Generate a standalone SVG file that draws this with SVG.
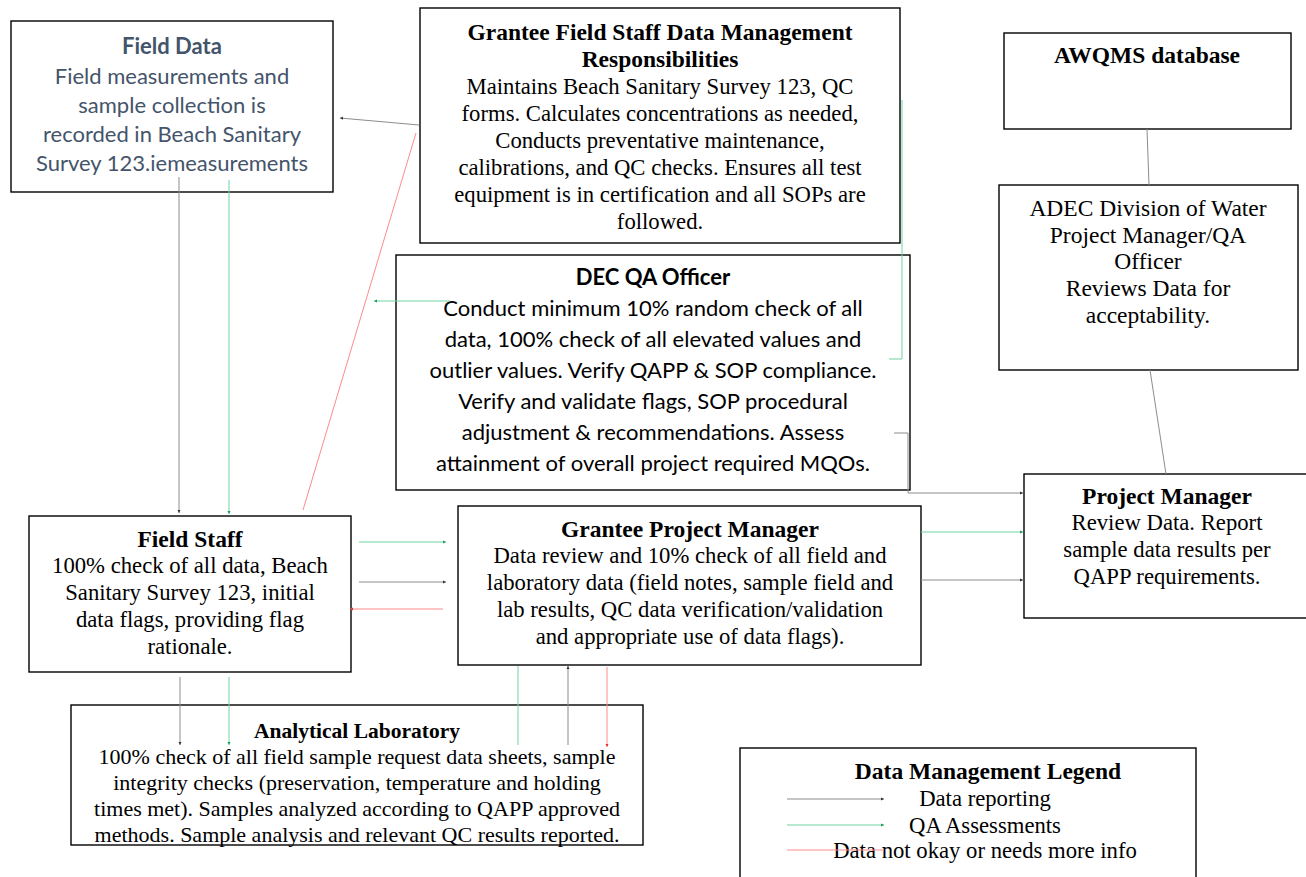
<svg xmlns="http://www.w3.org/2000/svg" width="1306" height="877" viewBox="0 0 1306 877">
<style>
.box{fill:#fff;stroke:#000;stroke-width:1.4}
.s{font-family:"Liberation Serif",serif;font-size:22.7px;fill:#000;text-anchor:middle}
.sb{font-family:"Liberation Serif",serif;font-size:23.5px;font-weight:bold;fill:#000;text-anchor:middle}
.c{font-family:Lato,"Liberation Sans",sans-serif;font-size:22px;fill:#000;text-anchor:middle}
.cb{font-family:Lato,"Liberation Sans",sans-serif;font-size:22px;font-weight:bold;fill:#000;text-anchor:middle}
.fd{fill:#44546A}
.big{font-size:23.5px}
.lab{font-size:22px}
.labt{font-size:21.5px}
.g{stroke:#8c8c8c;stroke-width:1;fill:none}
.gr{stroke:#6fd3a0;stroke-width:1;fill:none}
.r{stroke:#ff8a8a;stroke-width:1;fill:none}
</style>
<defs>
<marker id="ag" markerWidth="4" markerHeight="4" refX="3" refY="2" orient="auto" markerUnits="userSpaceOnUse"><path d="M0,0.5 L3,2 L0,3.5z" fill="#333"/></marker>
<marker id="agr" markerWidth="4" markerHeight="4" refX="3" refY="2" orient="auto" markerUnits="userSpaceOnUse"><path d="M0,0.5 L3,2 L0,3.5z" fill="#1a9a5a"/></marker>
<marker id="ar" markerWidth="4" markerHeight="4" refX="3" refY="2" orient="auto" markerUnits="userSpaceOnUse"><path d="M0,0.5 L3,2 L0,3.5z" fill="#e03030"/></marker>
</defs>
<rect width="1306" height="877" fill="#fff"/>

<g id="field-data">
<rect class="box" x="11" y="21" width="322" height="171"/>
<text class="cb fd" x="172" y="54">Field Data</text>
<text class="c fd" x="172" y="84">Field measurements and</text>
<text class="c fd" x="172" y="113">sample collection is</text>
<text class="c fd" x="172" y="142">recorded in Beach Sanitary</text>
<text class="c fd" x="172" y="171">Survey 123.iemeasurements</text>
</g>

<g id="grantee-field-staff">
<rect class="box" x="420" y="8" width="480" height="235"/>
<text class="sb" x="660" y="40">Grantee Field Staff Data Management</text>
<text class="sb" x="660" y="67">Responsibilities</text>
<text class="s" x="660" y="94">Maintains Beach Sanitary Survey 123, QC</text>
<text class="s" x="660" y="121">forms. Calculates concentrations as needed,</text>
<text class="s" x="660" y="148">Conducts preventative maintenance,</text>
<text class="s" x="660" y="175">calibrations, and QC checks. Ensures all test</text>
<text class="s" x="660" y="202">equipment is in certification and all SOPs are</text>
<text class="s" x="660" y="229">followed.</text>
</g>

<g id="dec-qa-officer">
<rect class="box" x="396" y="255" width="514" height="235"/>
<text class="cb" x="653" y="285">DEC QA Officer</text>
<text class="c" x="653" y="316">Conduct minimum 10% random check of all</text>
<text class="c" x="653" y="347">data, 100% check of all elevated values and</text>
<text class="c" x="653" y="378">outlier values. Verify QAPP &amp; SOP compliance.</text>
<text class="c" x="653" y="409">Verify and validate flags, SOP procedural</text>
<text class="c" x="653" y="440">adjustment &amp; recommendations. Assess</text>
<text class="c" x="653" y="471">attainment of overall project required MQOs.</text>
</g>

<g id="awqms">
<rect class="box" x="1004" y="33" width="287" height="96"/>
<text class="sb" x="1147" y="63">AWQMS database</text>
</g>

<g id="adec">
<rect class="box" x="999" y="185" width="299" height="185"/>
<text class="s big" x="1148" y="216">ADEC Division of Water</text>
<text class="s big" x="1148" y="243">Project Manager/QA</text>
<text class="s big" x="1148" y="269">Officer</text>
<text class="s big" x="1148" y="296">Reviews Data for</text>
<text class="s big" x="1148" y="323">acceptability.</text>
</g>

<g id="project-manager">
<rect class="box" x="1024" y="474" width="290" height="144"/>
<text class="sb" x="1167" y="504">Project Manager</text>
<text class="s" x="1167" y="530">Review Data. Report</text>
<text class="s" x="1167" y="557">sample data results per</text>
<text class="s" x="1167" y="584">QAPP requirements.</text>
</g>

<g id="field-staff">
<rect class="box" x="29" y="516" width="322" height="156"/>
<text class="sb" x="190" y="547">Field Staff</text>
<text class="s" x="190" y="573">100% check of all data, Beach</text>
<text class="s" x="190" y="600">Sanitary Survey 123, initial</text>
<text class="s" x="190" y="627">data flags, providing flag</text>
<text class="s" x="190" y="654">rationale.</text>
</g>

<g id="grantee-project-manager">
<rect class="box" x="458" y="506" width="463" height="159"/>
<text class="sb" x="690" y="537">Grantee Project Manager</text>
<text class="s" x="690" y="563">Data review and 10% check of all field and</text>
<text class="s" x="690" y="590">laboratory data (field notes, sample field and</text>
<text class="s" x="690" y="617">lab results, QC data verification/validation</text>
<text class="s" x="690" y="644">and appropriate use of data flags).</text>
</g>

<g id="analytical-laboratory">
<rect class="box" x="71" y="705" width="572" height="140"/>
<text class="sb labt" x="357" y="738">Analytical Laboratory</text>
<text class="s lab" x="357" y="764">100% check of all field sample request data sheets, sample</text>
<text class="s lab" x="357" y="790">integrity checks (preservation, temperature and holding</text>
<text class="s lab" x="357" y="816">times met). Samples analyzed according to QAPP approved</text>
<text class="s lab" x="357" y="842">methods. Sample analysis and relevant QC results reported.</text>
</g>

<g id="legend">
<rect class="box" x="740" y="748" width="456" height="140"/>
<text class="sb" x="988" y="779">Data Management Legend</text>
<text class="s" x="985" y="806">Data reporting</text>
<text class="s" x="985" y="833">QA Assessments</text>
<text class="s" x="985" y="858">Data not okay or needs more info</text>
<line class="g" x1="787" y1="799" x2="884" y2="799" marker-end="url(#ag)"/>
<line class="gr" x1="787" y1="825" x2="884" y2="825" marker-end="url(#agr)"/>
<line class="r" x1="787" y1="850" x2="884" y2="850"/>
</g>

<g id="connectors">
<line class="g" x1="419" y1="125" x2="340" y2="118" marker-end="url(#ag)"/>
<line class="r" x1="303" y1="510" x2="416" y2="133"/>
<line class="g" x1="179" y1="177" x2="179" y2="513" marker-end="url(#ag)"/>
<line class="gr" x1="229" y1="180" x2="229" y2="514" marker-end="url(#agr)"/>
<line class="gr" x1="359" y1="542" x2="446" y2="542" marker-end="url(#agr)"/>
<line class="g" x1="359" y1="582" x2="446" y2="582" marker-end="url(#ag)"/>
<line class="r" x1="443" y1="609" x2="350" y2="609" marker-end="url(#ar)"/>
<line class="g" x1="180" y1="677" x2="180" y2="745" marker-end="url(#ag)"/>
<line class="gr" x1="229" y1="677" x2="229" y2="745" marker-end="url(#agr)"/>
<line class="gr" x1="518" y1="666" x2="518" y2="745"/>
<line class="g" x1="568" y1="745" x2="568" y2="666" marker-end="url(#ag)"/>
<line class="r" x1="607" y1="667" x2="607" y2="747" marker-end="url(#ar)"/>
<polyline class="gr" points="902,100 902,359 889,359"/>
<line class="gr" x1="450" y1="301" x2="374" y2="301" marker-end="url(#agr)"/>
<polyline class="g" points="894,433 908,433 908,493 1023,493" marker-end="url(#ag)"/>
<line class="gr" x1="921" y1="532" x2="1023" y2="532" marker-end="url(#agr)"/>
<line class="g" x1="921" y1="580" x2="1023" y2="580" marker-end="url(#ag)"/>
<line class="g" x1="1147" y1="129" x2="1149" y2="185"/>
<line class="g" x1="1150" y1="370" x2="1166" y2="474"/>
</g>
</svg>
